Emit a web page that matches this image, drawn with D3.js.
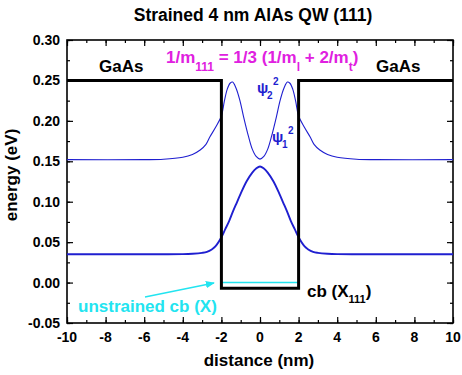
<!DOCTYPE html>
<html lang="en">
<head>
<meta charset="UTF-8">
<title>Strained 4 nm AlAs QW (111)</title>
<style>
  body { margin: 0; background: #fff; }
  text { font-family: "Liberation Sans", Arial, sans-serif; font-weight: bold; white-space: pre; }
</style>
</head>
<body>
<svg width="462" height="375" id="svg"></svg>
<script src="https://d3js.org/d3.v7.min.js"></script>
<script>
// conduction band profile (X111), eV
const bandX = [-10, -2, -2, 2, 2, 10]
const bandE = [0.25, 0.25, -0.007, -0.007, 0.25, 0.25]

// unstrained cb (X) inside the well
const unstrX = [-2, 2]
const unstrE = [0, 0]

// |psi1|^2 shifted to its level (symmetric about 0)
const psi1X = [-10, -5, -4, -3.5, -3, -2.75, -2.5, -2.3, -2.0, -1.8, -1.6, -1.4, -1.2, -1.0, -0.7, -0.4, -0.2, 0,
               0.2, 0.4, 0.7, 1.0, 1.2, 1.4, 1.6, 1.8, 2.0, 2.3, 2.5, 2.75, 3, 3.5, 4, 5, 10]
const psi1E = [0.035, 0.035, 0.0352, 0.0357, 0.0368, 0.038, 0.041, 0.045, 0.056, 0.066, 0.076, 0.088, 0.099, 0.110, 0.125, 0.136, 0.141, 0.1435,
               0.141, 0.136, 0.125, 0.110, 0.099, 0.088, 0.076, 0.066, 0.056, 0.045, 0.041, 0.038, 0.0368, 0.0357, 0.0352, 0.035, 0.035]

// |psi2|^2 shifted to its level
const psi2X = [-10, -6, -5, -4, -3.5, -3.1, -2.8, -2.6, -2.3, -2.0, -1.85, -1.7, -1.55, -1.42, -1.25, -1.05, -0.85, -0.6, -0.4, -0.2, 0,
               0.2, 0.4, 0.6, 0.85, 1.05, 1.25, 1.42, 1.55, 1.7, 1.85, 2.0, 2.3, 2.6, 2.8, 3.1, 3.5, 4, 5, 6, 10]
const psi2E = [0.152, 0.152, 0.1525, 0.155, 0.1585, 0.164, 0.171, 0.180, 0.192, 0.206, 0.224, 0.239, 0.2465, 0.248, 0.241, 0.226, 0.205, 0.181, 0.165, 0.156, 0.1527,
               0.156, 0.165, 0.181, 0.205, 0.226, 0.241, 0.248, 0.2465, 0.239, 0.224, 0.206, 0.192, 0.180, 0.171, 0.164, 0.1585, 0.155, 0.1525, 0.152, 0.152]

const xTicks = [-10, -8, -6, -4, -2, 0, 2, 4, 6, 8, 10]
const xTickLabels = ["-10", "-8", "-6", "-4", "-2", "0", "2", "4", "6", "8", "10"]
const yTicks = [-0.05, 0, 0.05, 0.10, 0.15, 0.20, 0.25, 0.30]
const yTickLabels = ["-0.05", "0.00", "0.05", "0.10", "0.15", "0.20", "0.25", "0.30"]

const margin = { top: 40, right: 9, bottom: 52, left: 67 }
const svg = d3.select("svg#svg")
const width = +svg.attr("width")
const height = +svg.attr("height")
const innerWidth = width - margin.left - margin.right
const innerHeight = height - margin.top - margin.bottom

// scales in page coordinates
const x = d3.scaleLinear().domain([-10, 10]).range([margin.left, margin.left + innerWidth])
const y = d3.scaleLinear().domain([-0.05, 0.30]).range([margin.top + innerHeight, margin.top])

// ticks pointing inward on all four sides (labels drawn separately)
const xMinor = d3.range(-10, 10.01, 1)
const yMinor = d3.range(-0.05, 0.301, 0.025)

function bare(sel) {
    sel.select(".domain").remove()
    sel.selectAll("text").remove()
    sel.selectAll("line").attr("stroke", "#000").attr("stroke-width", 1.2)
}

const axes = [
    [d3.axisBottom(x).tickValues(xTicks).tickSize(-6), `translate(0,${y(-0.05)})`],
    [d3.axisBottom(x).tickValues(xMinor).tickSize(-3), `translate(0,${y(-0.05)})`],
    [d3.axisTop(x).tickValues(xTicks).tickSize(-6), `translate(0,${y(0.30)})`],
    [d3.axisTop(x).tickValues(xMinor).tickSize(-3), `translate(0,${y(0.30)})`],
    [d3.axisLeft(y).tickValues(yTicks).tickSize(-6), `translate(${x(-10)},0)`],
    [d3.axisLeft(y).tickValues(yMinor).tickSize(-3), `translate(${x(-10)},0)`],
    [d3.axisRight(y).tickValues(yTicks).tickSize(-6), `translate(${x(10)},0)`],
    [d3.axisRight(y).tickValues(yMinor).tickSize(-3), `translate(${x(10)},0)`]
]
axes.forEach(([ax, tr]) => svg.append("g").attr("transform", tr).call(ax).call(bare))

svg.selectAll("text.xt").data(xTicks).join("text").attr("class", "xt")
    .attr("x", d => x(d)).attr("y", y(-0.05) + 19)
    .attr("text-anchor", "middle").attr("font-size", 14)
    .text((d, i) => xTickLabels[i])
svg.selectAll("text.yt").data(yTicks).join("text").attr("class", "yt")
    .attr("x", x(-10) - 7).attr("y", d => y(d) + 5)
    .attr("text-anchor", "end").attr("font-size", 14)
    .text((d, i) => yTickLabels[i])

// frame
svg.append("rect").attr("x", x(-10)).attr("y", y(0.30))
    .attr("width", innerWidth).attr("height", innerHeight)
    .attr("fill", "none").attr("stroke", "#000").attr("stroke-width", 1.6)

const lineOf = (xs, ys, curve) => d3.line()
    .x((d, i) => x(xs[i])).y((d, i) => y(ys[i]))
    .curve(curve)(xs)

svg.append("path").attr("d", lineOf(psi2X, psi2E, d3.curveCatmullRom.alpha(0.5)))
    .attr("fill", "none").attr("stroke", "#1f1fd0").attr("stroke-width", 1.1)
svg.append("path").attr("d", lineOf(psi1X, psi1E, d3.curveCatmullRom.alpha(0.5)))
    .attr("fill", "none").attr("stroke", "#1f1fd0").attr("stroke-width", 1.9)
svg.append("path").attr("d", lineOf(unstrX, unstrE, d3.curveLinear))
    .attr("fill", "none").attr("stroke", "#22e4f0").attr("stroke-width", 1.6)
svg.append("path").attr("d", lineOf(bandX, bandE, d3.curveLinear))
    .attr("fill", "none").attr("stroke", "#000").attr("stroke-width", 3).attr("stroke-linejoin", "miter")

// title and axis labels
svg.append("text").attr("x", 253).attr("y", 21).attr("text-anchor", "middle")
    .attr("font-size", 17.5).text("Strained 4 nm AlAs QW (111)")
svg.append("text").attr("x", 259).attr("y", 366).attr("text-anchor", "middle")
    .attr("font-size", 17).text("distance (nm)")
svg.append("text").attr("transform", "translate(17,175) rotate(-90)")
    .attr("text-anchor", "middle").attr("font-size", 17).text("energy (eV)")

// annotations
svg.append("text").attr("x", 99).attr("y", 72).attr("font-size", 17).text("GaAs")
svg.append("text").attr("x", 376).attr("y", 72).attr("font-size", 17).text("GaAs")

// text with sub/superscripts as a row of separate text pieces
function pieces(px, py, parts, color) {
    let cx = px
    parts.forEach(([t, size, dy]) => {
        const el = svg.append("text").attr("x", cx).attr("y", py + dy)
            .attr("font-size", size).attr("fill", color).text(t)
        cx += el.node().getComputedTextLength()
    })
}

pieces(166, 63, [["1/m", 17, 0], ["111", 12, 8], [" = 1/3 (1/m", 17, 0], ["l", 12, 8],
                 [" + 2/m", 17, 0], ["t", 12, 8], [")", 17, 0]], "#e020e0")

function psiLabel(px, py, sub) {
    svg.append("text").attr("x", px).attr("y", py).attr("font-size", 15).attr("fill", "#1f1fd0").text("ψ")
    svg.append("text").attr("x", px + 10).attr("y", py + 6).attr("font-size", 10).attr("fill", "#1f1fd0").text(sub)
    svg.append("text").attr("x", px + 16).attr("y", py - 8).attr("font-size", 10).attr("fill", "#1f1fd0").text("2")
}
psiLabel(257, 93, "2")
psiLabel(272, 142, "1")

pieces(307, 297, [["cb (X", 17, 0], ["111", 11, 6], [")", 17, 0]], "#000")

svg.append("text").attr("x", 78).attr("y", 312).attr("font-size", 17).attr("fill", "#22e4f0")
    .text("unstrained cb (X)")

// arrow
svg.append("defs").append("marker").attr("id", "ah").attr("viewBox", "0 0 10 10")
    .attr("refX", 9).attr("refY", 5).attr("markerWidth", 7).attr("markerHeight", 7)
    .attr("orient", "auto").append("path").attr("d", "M0,1 L10,5 L0,9 Z").attr("fill", "#22e4f0")
svg.append("line").attr("x1", 145).attr("y1", 297).attr("x2", 214).attr("y2", 283)
    .attr("stroke", "#22e4f0").attr("stroke-width", 1.3).attr("marker-end", "url(#ah)")
</script>
</body>
</html>
